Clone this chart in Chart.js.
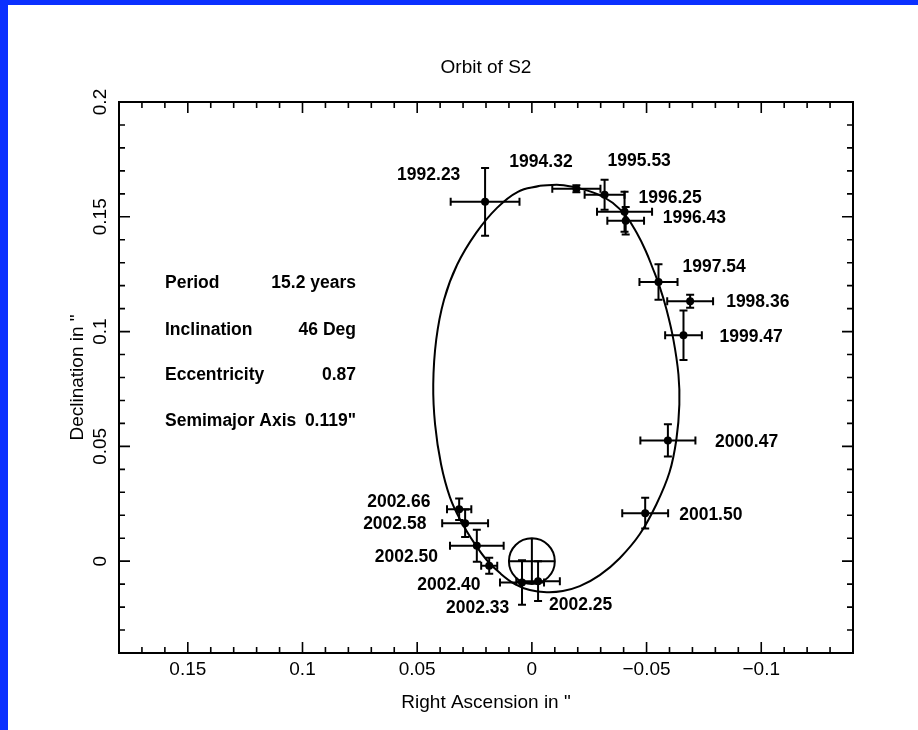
<!DOCTYPE html>
<html>
<head>
<meta charset="utf-8">
<script src="https://cdn.jsdelivr.net/npm/chart.js@4.4.1/dist/chart.umd.min.js"></script>
<style>
html,body{margin:0;padding:0;background:#fff;}
#wrap{position:relative;width:918px;height:730px;}
</style>
</head>
<body>
<div id="wrap"><canvas id="c" width="918" height="730"></canvas></div>
<script>
// ---- data ----
const epochs   = ['1992.23','1994.32','1995.53','1996.25','1996.43','1997.54','1998.36','1999.47','2000.47','2001.50','2002.25','2002.33','2002.40','2002.50','2002.58','2002.66'];
const raOffset = [0.0204,-0.0194,-0.0317,-0.0404,-0.0409,-0.0552,-0.0690,-0.0661,-0.0593,-0.0494,-0.0027,0.0043,0.0186,0.0240,0.0291,0.0317];
const decOffset= [0.1565,0.1622,0.1596,0.1522,0.1483,0.1216,0.1132,0.0984,0.0526,0.0209,-0.0087,-0.0093,-0.0020,0.0067,0.0165,0.0226];
const raError  = [0.0150,0.0105,0.0087,0.0120,0.0080,0.0083,0.0100,0.0080,0.0120,0.0100,0.0095,0.0096,0.0035,0.0117,0.0100,0.0053];
const decError = [0.0148,0.0015,0.0065,0.0087,0.0060,0.0077,0.0028,0.0108,0.0070,0.0067,0.0087,0.0097,0.0035,0.0070,0.0060,0.0047];

// orbit curve
const orbitRA  = [-0.0035,-0.0122,-0.0200,-0.0283,-0.0352,-0.0413,-0.0457,-0.0496,-0.0526,-0.0557,-0.0587,-0.0617,-0.0639,-0.0643,-0.0630,-0.0600,-0.0543,-0.0470,-0.0383,-0.0296,-0.0209,-0.0135,-0.0065,0.0009,0.0074,0.0139,0.0196,0.0248,0.0309,0.0357,0.0396,0.0422,0.0430,0.0417,0.0383,0.0326,0.0243,0.0152,0.0061,-0.0035];
const orbitDec = [0.1635,0.1639,0.1626,0.1600,0.1561,0.1500,0.1430,0.1352,0.1278,0.1196,0.1096,0.0965,0.0813,0.0683,0.0530,0.0387,0.0248,0.0117,0.0013,-0.0061,-0.0109,-0.0130,-0.0135,-0.0126,-0.0100,-0.0052,0.0004,0.0074,0.0174,0.0278,0.0422,0.0596,0.0770,0.0965,0.1139,0.1291,0.1430,0.1539,0.1609,0.1635];

const xTickValues = [0.15,0.1,0.05,0,-0.05,-0.1];
const xTickLabels = ['0.15','0.1','0.05','0','\u22120.05','\u22120.1'];
const yTickValues = [0,0.05,0.1,0.15,0.2];
const yTickLabels = ['0','0.05','0.1','0.15','0.2'];

const paramNames  = ['Period','Inclination','Eccentricity','Semimajor Axis'];
const paramValues = ['15.2 years','46 Deg','0.87','0.119"'];
const centralMassRadius = 0.01;

// ---- layout / style (not data) ----
const labelOffsets = [[-88,-27],[-67,-27],[3,-34],[14,-14],[37,-3],[24,-15],[36,1],[36,2],[47,2],[34,2],[11,24],[-76,26],[-72,19],[-102,11],[-102,1],[-92,-7]];
const AXISFONT = '"Liberation Sans", Arial, sans-serif';
const LABELFONT = 'bold 17.5px "Liberation Sans", Arial, sans-serif';

function lookup(vals, labels, v){
  for (let i=0;i<vals.length;i++) if (Math.abs(vals[i]-v)<1e-9) return labels[i];
  return '';
}

const decor = {
  id:'decor',
  beforeDraw(chart){
    const c=chart.ctx; c.save();
    c.fillStyle='#fff'; c.fillRect(0,0,chart.width,chart.height);
    c.fillStyle='#0b30ff'; c.fillRect(0,0,chart.width,5); c.fillRect(0,0,8,chart.height);
    c.restore();
  },
  afterDatasetsDraw(chart){
    const c=chart.ctx, xs=chart.scales.x, ys=chart.scales.y, ca=chart.chartArea;
    c.save();
    c.strokeStyle='#000'; c.lineWidth=2; c.lineCap='butt';
    const cap=4;
    for (let i=0;i<epochs.length;i++){
      const px=xs.getPixelForValue(raOffset[i]), py=ys.getPixelForValue(decOffset[i]);
      const x1=xs.getPixelForValue(raOffset[i]-raError[i]), x2=xs.getPixelForValue(raOffset[i]+raError[i]);
      const y1=ys.getPixelForValue(decOffset[i]-decError[i]), y2=ys.getPixelForValue(decOffset[i]+decError[i]);
      c.beginPath();
      c.moveTo(x1,py); c.lineTo(x2,py);
      c.moveTo(x1,py-cap); c.lineTo(x1,py+cap);
      c.moveTo(x2,py-cap); c.lineTo(x2,py+cap);
      c.moveTo(px,y1); c.lineTo(px,y2);
      c.moveTo(px-cap,y1); c.lineTo(px+cap,y1);
      c.moveTo(px-cap,y2); c.lineTo(px+cap,y2);
      c.stroke();
    }
    // central mass marker
    const cx=xs.getPixelForValue(0), cy=ys.getPixelForValue(0);
    const r=Math.abs(xs.getPixelForValue(centralMassRadius)-cx);
    c.beginPath(); c.arc(cx,cy,r,0,Math.PI*2);
    c.moveTo(cx-r,cy); c.lineTo(cx+r,cy);
    c.moveTo(cx,cy-r); c.lineTo(cx,cy+r);
    c.stroke();
    // epoch labels
    const meta=chart.getDatasetMeta(1);
    c.fillStyle='#000'; c.font=LABELFONT; c.textAlign='left'; c.textBaseline='middle';
    meta.data.forEach((el,i)=>{ c.fillText(epochs[i], el.x+labelOffsets[i][0], el.y+labelOffsets[i][1]); });
    // orbital parameters
    const rows=[181,228,273,319];
    for (let i=0;i<paramNames.length;i++){
      c.textAlign='left'; c.fillText(paramNames[i], ca.left+46, ca.top+rows[i]);
      c.textAlign='right'; c.fillText(paramValues[i], ca.left+237, ca.top+rows[i]);
    }
    c.restore();
  },
  afterDraw(chart){
    const c=chart.ctx, xs=chart.scales.x, ys=chart.scales.y, ca=chart.chartArea;
    c.save(); c.strokeStyle='#000'; c.lineWidth=2;
    c.strokeRect(ca.left, ca.top, ca.right-ca.left, ca.bottom-ca.top);
    c.beginPath();
    xs.ticks.forEach(t=>{
      const p=xs.getPixelForValue(t.value);
      const len=lookup(xTickValues,xTickLabels,t.value)!==''?11:6;
      c.moveTo(p,ca.bottom); c.lineTo(p,ca.bottom-len);
      c.moveTo(p,ca.top); c.lineTo(p,ca.top+len);
    });
    ys.ticks.forEach(t=>{
      const p=ys.getPixelForValue(t.value);
      const len=lookup(yTickValues,yTickLabels,t.value)!==''?11:6;
      c.moveTo(ca.left,p); c.lineTo(ca.left+len,p);
      c.moveTo(ca.right,p); c.lineTo(ca.right-len,p);
    });
    c.lineWidth=1.6; c.stroke();
    c.restore();
  }
};

new Chart(document.getElementById('c'), {
  data:{
    datasets:[
      { type:'line', label:'Orbit', order:2,
        data: orbitRA.map((x,i)=>({x:x, y:orbitDec[i]})),
        borderColor:'#000', borderWidth:2, pointRadius:0, tension:0.4, fill:false },
      { type:'scatter', label:'S2', order:1,
        data: raOffset.map((x,i)=>({x:x, y:decOffset[i]})),
        backgroundColor:'#000', borderColor:'#000', pointRadius:4, pointBorderWidth:0 }
    ]
  },
  options:{
    responsive:false, animation:false, devicePixelRatio:1,
    layout:{padding:{left:0, right:65, top:0, bottom:0}},
    plugins:{
      legend:{display:false}, tooltip:{enabled:false},
      title:{display:true, text:'Orbit of S2', fullSize:false, color:'#000',
        font:{family:AXISFONT, size:19, weight:'normal'}, padding:{top:56.6,bottom:22.6}}
    },
    scales:{
      x:{ type:'linear', position:'bottom', reverse:true, min:-0.14, max:0.18,
        afterFit(s){ s.height=77; },
        grid:{display:false, drawTicks:false}, border:{display:false},
        ticks:{ stepSize:0.01, autoSkip:false, minRotation:0, maxRotation:0, padding:5.6, color:'#000',
          font:{family:AXISFONT, size:19}, callback:(v)=>lookup(xTickValues,xTickLabels,v) },
        title:{ display:true, text:'Right Ascension in "', color:'#000',
          font:{family:AXISFONT, size:19}, padding:{top:0,bottom:15.6} } },
      y:{ type:'linear', position:'left', min:-0.04, max:0.2,
        afterFit(s){ s.width=119; },
        grid:{display:false, drawTicks:false}, border:{display:false},
        ticks:{ stepSize:0.01, autoSkip:false, minRotation:90, maxRotation:90, crossAlign:'center', padding:0, color:'#000',
          font:{family:AXISFONT, size:19}, callback:(v)=>lookup(yTickValues,yTickLabels,v) },
        title:{ display:true, text:'Declination in "', color:'#000',
          font:{family:AXISFONT, size:19}, padding:{top:66.6,bottom:0} } }
    }
  },
  plugins:[decor]
});
</script>
</body>
</html>
